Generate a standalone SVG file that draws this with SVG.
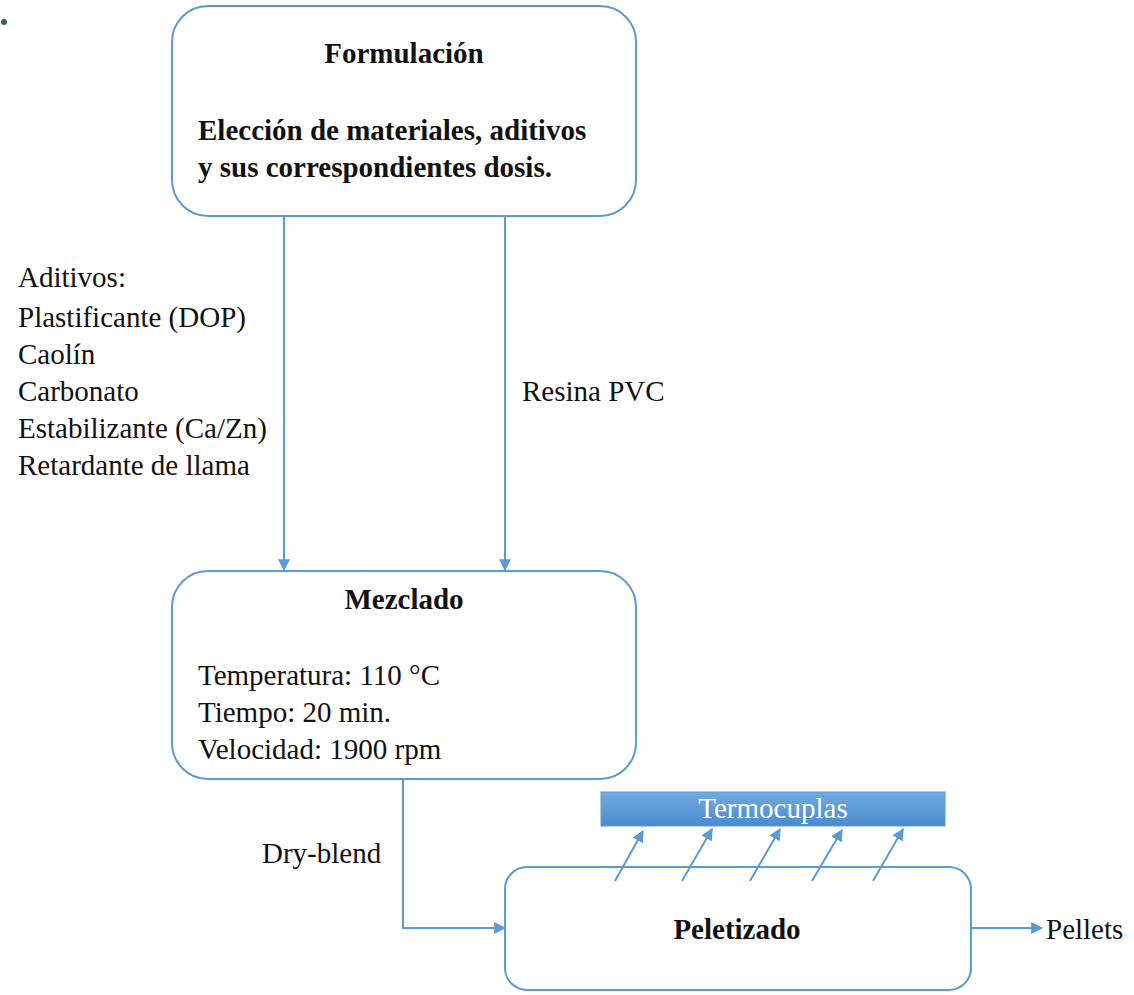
<svg xmlns="http://www.w3.org/2000/svg" width="1134" height="995" viewBox="0 0 1134 995">
<style>
.box{fill:#fff;stroke:#5B9BD5;stroke-width:2}
.ln{fill:none;stroke:#5B9BD5;stroke-width:2}
text{font-family:"Liberation Serif","Times New Roman",serif;font-size:29px;fill:#111}
.b{font-weight:bold}
.c{text-anchor:middle}
</style>
<defs>
<marker id="ah" viewBox="0 0 10 10" refX="9" refY="5" markerWidth="6" markerHeight="6" orient="auto" markerUnits="strokeWidth">
<path d="M0,0 L10,5 L0,10 z" fill="#5B9BD5"/>
</marker>
<linearGradient id="bar" x1="0" y1="0" x2="0" y2="1">
<stop offset="0" stop-color="#72AADF"/>
<stop offset="1" stop-color="#4A8BCE"/>
</linearGradient>
</defs>
<circle cx="4" cy="22" r="3" fill="#44546A"/>
<g id="formulacion">
<rect class="box" x="172" y="6" width="464" height="210" rx="36"/>
<text class="b c" x="404" y="63">Formulación</text>
<text class="b" x="198" y="140">Elección de materiales, aditivos</text>
<text class="b" x="198" y="177">y sus correspondientes dosis.</text>
</g>
<g id="aditivos">
<text x="18" y="287">Aditivos:</text>
<text x="18" y="327">Plastificante (DOP)</text>
<text x="18" y="364">Caolín</text>
<text x="18" y="401">Carbonato</text>
<text x="18" y="438">Estabilizante (Ca/Zn)</text>
<text x="18" y="475">Retardante de llama</text>
</g>
<g id="resina">
<text x="522" y="401">Resina PVC</text>
</g>
<g id="mezclado">
<rect class="box" x="172" y="571" width="464" height="208" rx="36"/>
<text class="b c" x="404" y="609">Mezclado</text>
<text x="198" y="685">Temperatura: 110 °C</text>
<text x="198" y="722">Tiempo: 20 min.</text>
<text x="198" y="759">Velocidad: 1900 rpm</text>
</g>
<g id="dryblend">
<text x="262" y="863">Dry-blend</text>
</g>
<g id="termocuplas">
<rect x="601" y="792" width="344" height="34" fill="url(#bar)" stroke="#5B9BD5" stroke-width="1"/>
<text class="c" x="773" y="818" style="fill:#fff">Termocuplas</text>
</g>
<g id="peletizado">
<rect class="box" x="505" y="867" width="466" height="123" rx="22"/>
<text class="b c" x="737" y="939">Peletizado</text>
</g>
<g id="pellets">
<text x="1046" y="939">Pellets</text>
</g>
<g id="connectors">
<line class="ln" x1="284" y1="216" x2="284" y2="570" marker-end="url(#ah)"/>
<line class="ln" x1="505" y1="216" x2="505" y2="570" marker-end="url(#ah)"/>
<polyline class="ln" points="403,779 403,928 505,928" marker-end="url(#ah)"/>
<line class="ln" x1="971" y1="928" x2="1042" y2="928" marker-end="url(#ah)"/>
<line class="ln" x1="615" y1="881" x2="643" y2="831" marker-end="url(#ah)"/>
<line class="ln" x1="682" y1="881" x2="712" y2="829" marker-end="url(#ah)"/>
<line class="ln" x1="750" y1="881" x2="780" y2="829" marker-end="url(#ah)"/>
<line class="ln" x1="812" y1="881" x2="842" y2="830" marker-end="url(#ah)"/>
<line class="ln" x1="873" y1="881" x2="903" y2="829" marker-end="url(#ah)"/>
</g>
</svg>
